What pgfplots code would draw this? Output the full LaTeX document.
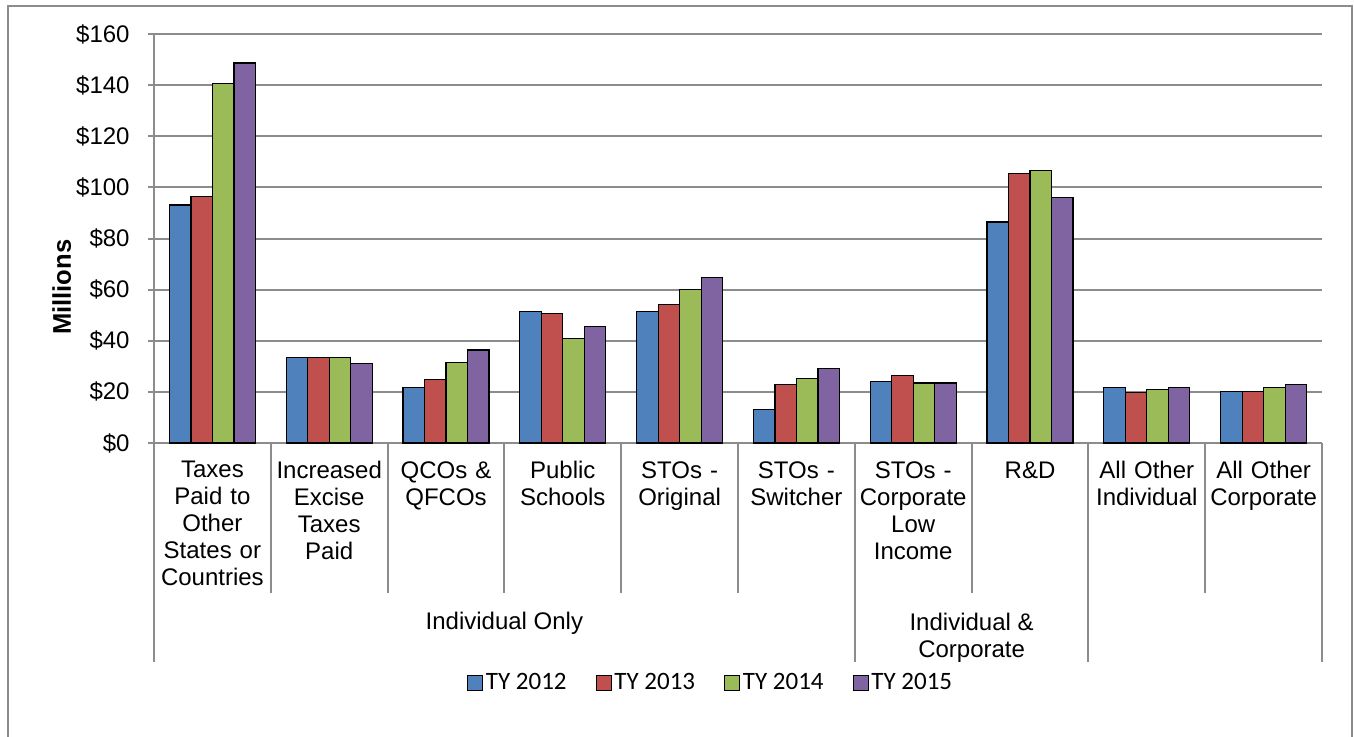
\documentclass[border=0pt]{standalone}
\usepackage{pgfplots}
\pgfplotsset{compat=1.18}
\usepackage{fontspec}
\setmainfont{Liberation Sans}
\newfontfamily\calibri{Carlito}
\definecolor{c1}{HTML}{4F81BD}
\definecolor{c2}{HTML}{C0504D}
\definecolor{c3}{HTML}{9BBB59}
\definecolor{c4}{HTML}{8064A2}
\definecolor{gridc}{HTML}{8C8C8C}
\begin{document}
\begin{tikzpicture}[x=1pt,y=1pt]
\useasboundingbox (0,0) rectangle (677,-368);
\draw[gridc, line width=0.7pt] (4,-3) rectangle (676,-375);
\begin{axis}[
  at={(77pt,-221.5pt)}, anchor=south west,
  scale only axis, width=584pt, height=204.5pt,
  xmin=-0.5, xmax=9.5, ymin=0, ymax=160,
  ybar=0pt, bar width=10.75pt,
  axis x line*=bottom, axis y line*=left,
  axis line style={gridc, line width=1pt},
  xtick={0,...,9},
  x tick style={draw=none},
  xticklabels={Taxes\\Paid to\\Other\\States or\\Countries, Increased\\Excise\\Taxes\\Paid, QCOs \&\\QFCOs, Public\\Schools, STOs -\\Original, STOs -\\Switcher, STOs -\\Corporate\\Low\\Income, R\&D, All Other\\Individual, All Other\\Corporate},
  xticklabel style={align=center, text width=58pt, font=\fontsize{12}{13.5}\selectfont, anchor=north, inner sep=0pt, yshift=-6pt},
  ytick={0,20,...,160},
  yticklabels={\$0,\$20,\$40,\$60,\$80,\$100,\$120,\$140,\$160},
  yticklabel style={font=\fontsize{12}{13.5}\selectfont, inner sep=0pt, xshift=-9pt},
  tick align=outside, major tick length=3pt,
  y tick style={gridc, line width=1pt},
  ymajorgrids, grid style={gridc, line width=1pt},
  ylabel={Millions}, ylabel style={font=\fontsize{12.8}{14}\selectfont\bfseries, at={(ticklabel cs:0.381,-1pt)}},
  clip=false,
  legend columns=4,
  legend style={at={(0.477,-0.587)}, anchor=center, draw=none, fill=none,
    font=\calibri\fontsize{12.5}{14}\selectfont,
    nodes={inner xsep=1.5pt},
    /tikz/every even column/.append style={column sep=13pt},
    inner sep=0pt},
  legend image code/.code={\draw[#1, line width=0.4pt] (0pt,-3.75pt) rectangle (7.5pt,3.75pt);},
]
\addplot[fill=c1, draw=black, line width=0.6pt] coordinates {(0,93.1) (1,33.4) (2,21.6) (3,51.3) (4,51.3) (5,13.0) (6,24.1) (7,86.5) (8,21.6) (9,20.3)};
\addplot[fill=c2, draw=black, line width=0.6pt] coordinates {(0,96.4) (1,33.4) (2,24.8) (3,50.6) (4,54.3) (5,22.8) (6,26.5) (7,105.5) (8,19.8) (9,20.3)};
\addplot[fill=c3, draw=black, line width=0.6pt] coordinates {(0,140.7) (1,33.4) (2,31.6) (3,40.8) (4,59.9) (5,25.3) (6,23.5) (7,106.7) (8,21.0) (9,21.6)};
\addplot[fill=c4, draw=black, line width=0.6pt] coordinates {(0,148.7) (1,31.0) (2,36.4) (3,45.6) (4,64.7) (5,29.1) (6,23.5) (7,96.2) (8,21.6) (9,22.9)};
\legend{TY 2012, TY 2013, TY 2014, TY 2015}
\end{axis}
% separators
\foreach \k in {1,2,3,4,5,7,9} {
  \draw[gridc, line width=1pt] ({77+58.4*\k},-221.5) -- ({77+58.4*\k},-296.5);
}
\foreach \k in {0,6,8,10} {
  \draw[gridc, line width=1pt] ({77+58.4*\k},-221.5) -- ({77+58.4*\k},-331);
}
\node[font=\fontsize{12}{13.5}\selectfont] at (252.2,-311.5) {Individual Only};
\node[font=\fontsize{12}{13.5}\selectfont, align=center] at (485.8,-319) {Individual \&\\Corporate};
\end{tikzpicture}
\end{document}
